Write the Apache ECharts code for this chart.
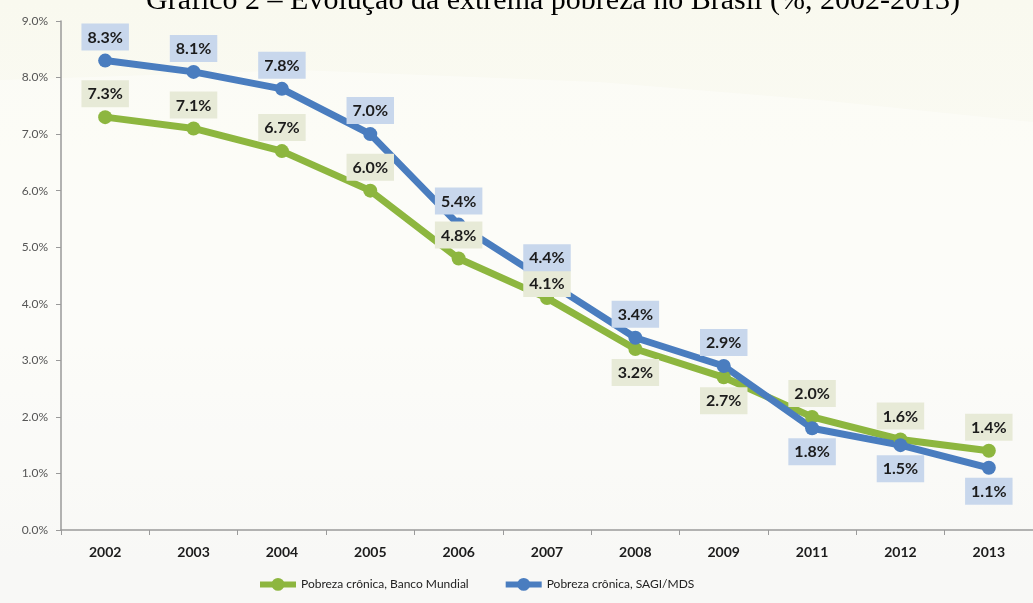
<!DOCTYPE html>
<html>
<head>
<meta charset="utf-8">
<script src="https://cdn.jsdelivr.net/npm/echarts@6/dist/echarts.min.js"></script>
<style>
  html, body { margin: 0; padding: 0; background: #f8f8f1; }
  #chart { width: 1033px; height: 603px; }
</style>
</head>
<body>
<div id="chart"></div>
<script>
// Anos e taxas de pobreza crônica (%)
const years = ['2002', '2003', '2004', '2005', '2006', '2007', '2008', '2009', '2011', '2012', '2013'];
const bancoMundial = [7.3, 7.1, 6.7, 6.0, 4.8, 4.1, 3.2, 2.7, 2.0, 1.6, 1.4];
const sagiMds = [8.3, 8.1, 7.8, 7.0, 5.4, 4.4, 3.4, 2.9, 1.8, 1.5, 1.1];
const seriesNames = ['Pobreza crônica, Banco Mundial', 'Pobreza crônica, SAGI/MDS'];
const titleText = 'Gráfico 2 – Evolução da extrema pobreza no Brasil (%, 2002-2013)';

// Anos em que o rótulo fica abaixo do ponto
const bancoBelow = ['2008', '2009'];
const sagiBelow = ['2011', '2012', '2013'];
// Rótulos encostados no ponto para não cobrir o rótulo vizinho
const bancoTight = ['2007'];

const GREEN = '#8db63f';
const BLUE = '#4a7dbf';
const labelFont = 'Lato, "Open Sans", sans-serif';

function buildData(values, below, tight, bg) {
  return values.map((v, i) => ({
    value: v,
    label: {
      position: below.includes(years[i]) ? 'bottom' : 'top',
      distance: tight.includes(years[i]) ? -6 : 3,
      backgroundColor: bg
    }
  }));
}

function makeSeries(name, values, below, tight, color, bg) {
  return {
    name: name,
    type: 'line',
    data: buildData(values, below, tight, bg),
    symbol: 'circle',
    symbolSize: 14,
    lineStyle: { color: color, width: 7 },
    itemStyle: { color: color },
    label: {
      show: true,
      formatter: p => p.value.toFixed(1) + '%',
      color: '#1c1c1c',
      fontFamily: labelFont,
      fontWeight: 'bold',
      fontSize: 16,
      padding: [6, 6, 5, 6]
    },
    emphasis: { disabled: true }
  };
}

const chart = echarts.init(document.getElementById('chart'));
chart.setOption({
  backgroundColor: {
    type: 'linear', x: 0, y: 0, x2: 0, y2: 1,
    colorStops: [
      { offset: 0, color: '#f9f9ef' },
      { offset: 0.5, color: '#fbfbf6' },
      { offset: 1, color: '#f4f4f1' }
    ]
  },
  animation: false,
  title: {
    text: titleText,
    left: 146,
    top: -14,
    padding: 0,
    textStyle: {
      fontFamily: '"Liberation Serif", "DejaVu Serif", serif',
      fontWeight: 'normal',
      fontSize: 30,
      color: '#000'
    }
  },
  graphic: [{
    type: 'polygon',
    z: -10,
    silent: true,
    shape: { points: [[300, 70], [600, 82], [820, 100], [1033, 122], [1033, 603], [0, 603], [0, 80]] },
    style: { fill: 'rgba(255,255,255,0.35)' }
  }],
  legend: {
    left: 252,
    top: 573,
    itemGap: 34,
    itemWidth: 36,
    itemHeight: 16,
    lineStyle: { width: 6 },
    textStyle: { fontFamily: labelFont, fontSize: 12, color: '#222' },
    data: seriesNames
  },
  grid: { left: 61, right: -10, top: 21, bottom: 73, containLabel: false },
  xAxis: {
    type: 'category',
    data: years,
    boundaryGap: true,
    axisLine: { lineStyle: { color: '#9a9a9a', width: 1.5 } },
    axisTick: { show: true, length: 5, lineStyle: { color: '#9a9a9a' } },
    axisLabel: {
      margin: 15,
      color: '#1c1c1c',
      fontFamily: labelFont,
      fontWeight: 'bold',
      fontSize: 14
    }
  },
  yAxis: {
    type: 'value',
    min: 0,
    max: 9,
    interval: 1,
    axisLine: { show: true, lineStyle: { color: '#9a9a9a', width: 1.5 } },
    axisTick: { show: true, length: 5, lineStyle: { color: '#9a9a9a' } },
    splitLine: { show: false },
    axisLabel: {
      margin: 13,
      color: '#555',
      fontFamily: labelFont,
      fontSize: 12,
      formatter: v => v.toFixed(1) + '%'
    }
  },
  series: [
    makeSeries(seriesNames[0], bancoMundial, bancoBelow, bancoTight, GREEN, '#e7ead7'),
    makeSeries(seriesNames[1], sagiMds, sagiBelow, [], BLUE, '#c8d7ec')
  ]
});
</script>
</body>
</html>
